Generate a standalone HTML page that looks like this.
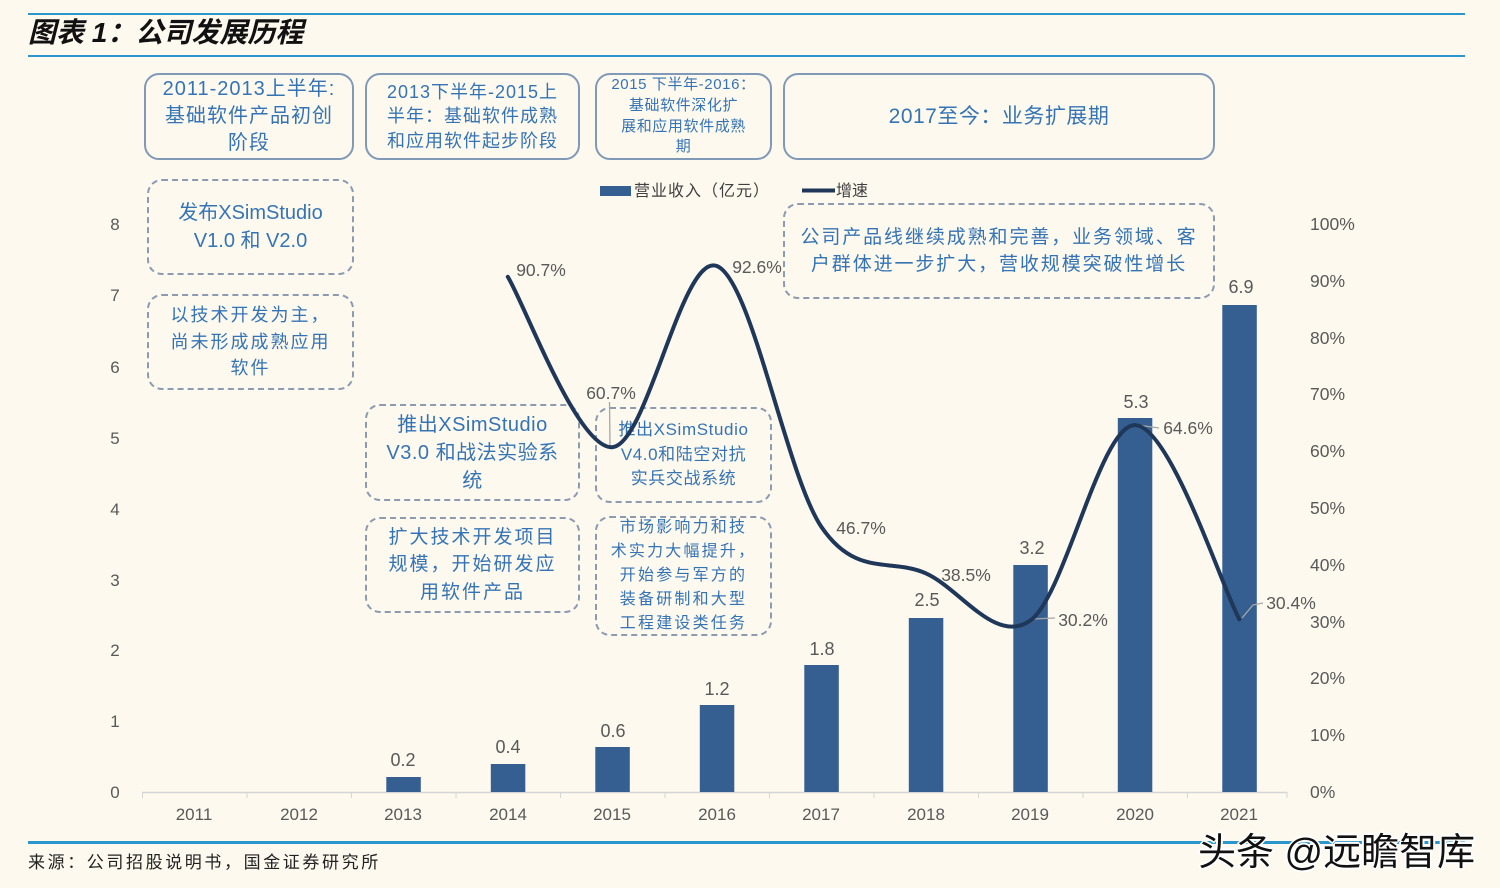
<!DOCTYPE html>
<html>
<head>
<meta charset="utf-8">
<style>
html,body{margin:0;padding:0;}
body{width:1500px;height:888px;background:#fdf9ef;position:relative;overflow:hidden;font-family:"Liberation Sans","Noto Sans CJK SC",sans-serif;}
.hl{position:absolute;left:28px;width:1437px;background:#2a96cc;}
.title{position:absolute;left:28px;top:13px;height:40px;line-height:40px;font-size:28px;font-weight:bold;font-style:italic;color:#111;font-family:"Liberation Sans","Noto Sans CJK SC",sans-serif;}
.box{position:absolute;box-sizing:border-box;border-radius:15px;display:flex;flex-direction:column;align-items:center;justify-content:center;text-align:center;color:#3574b4;font-family:"Liberation Sans","Noto Sans CJK SC",sans-serif;white-space:nowrap;}
.solid{border:2px solid #8099b6;}
.dash{border:2px dashed #8c9bb0;}
.src{position:absolute;left:28px;top:848px;font-size:17px;letter-spacing:2.6px;color:#222;font-family:"Liberation Sans","Noto Sans CJK SC",sans-serif;}
.wm{position:absolute;left:1198px;top:821px;font-size:38px;color:#111;letter-spacing:0px;font-family:"Liberation Sans","Noto Sans CJK SC",sans-serif;
text-shadow:-2px 0 #fff,2px 0 #fff,0 -2px #fff,0 2px #fff,-1px -1px #fff,1px 1px #fff,-1px 1px #fff,1px -1px #fff;}
svg{position:absolute;left:0;top:0;}
</style>
</head>
<body>
<div class="hl" style="top:13px;height:2px;"></div>
<div class="title">图表 1：公司发展历程</div>
<div class="hl" style="top:55px;height:2px;"></div>

<div class="box solid" style="left:144px;top:73px;width:210px;height:87px;font-size:20px;line-height:27px;letter-spacing:1px;">
<div>2011-2013上半年:</div><div>基础软件产品初创</div><div>阶段</div></div>
<div class="box solid" style="left:365px;top:73px;width:215px;height:87px;font-size:18px;line-height:24.5px;letter-spacing:1px;">
<div>2013下半年-2015上</div><div>半年：基础软件成熟</div><div>和应用软件起步阶段</div></div>
<div class="box solid" style="left:595px;top:73px;width:177px;height:87px;font-size:15px;line-height:20.7px;letter-spacing:0.6px;">
<div>2015 下半年-2016：</div><div>基础软件深化扩</div><div>展和应用软件成熟</div><div>期</div></div>
<div class="box solid" style="left:783px;top:73px;width:432px;height:87px;font-size:21px;line-height:28px;letter-spacing:0.5px;">
<div>2017至今：业务扩展期</div></div>

<div class="box dash" style="left:147px;top:179px;width:207px;height:96px;font-size:20px;line-height:28px;">
<div>发布XSimStudio</div><div>V1.0 和 V2.0</div></div>
<div class="box dash" style="left:147px;top:294px;width:207px;height:96px;font-size:18px;line-height:26.5px;letter-spacing:2px;">
<div>以技术开发为主，</div><div>尚未形成成熟应用</div><div>软件</div></div>
<div class="box dash" style="left:365px;top:404px;width:215px;height:97px;font-size:20px;line-height:28px;letter-spacing:0.5px;">
<div>推出XSimStudio</div><div>V3.0 和战法实验系</div><div>统</div></div>
<div class="box dash" style="left:365px;top:517px;width:215px;height:96px;font-size:19px;line-height:27.5px;letter-spacing:2px;">
<div>扩大技术开发项目</div><div>规模，开始研发应</div><div>用软件产品</div></div>
<div class="box dash" style="left:595px;top:407px;width:177px;height:96px;font-size:17px;line-height:24.5px;letter-spacing:0.6px;">
<div>推出XSimStudio</div><div>V4.0和陆空对抗</div><div>实兵交战系统</div></div>
<div class="box dash" style="left:595px;top:516px;width:177px;height:120px;font-size:16px;line-height:24.2px;letter-spacing:2.2px;">
<div>市场影响力和技</div><div>术实力大幅提升，</div><div>开始参与军方的</div><div>装备研制和大型</div><div>工程建设类任务</div></div>
<div class="box dash" style="left:783px;top:203px;width:432px;height:96px;font-size:19px;line-height:27px;letter-spacing:1.9px;">
<div>公司产品线继续成熟和完善，业务领域、客</div><div>户群体进一步扩大，营收规模突破性增长</div></div>

<svg width="1500" height="888" viewBox="0 0 1500 888" xmlns="http://www.w3.org/2000/svg">
  <rect x="600" y="186" width="31" height="10" fill="#355f91"/>
  <text x="634" y="196" font-size="16" fill="#404040" letter-spacing="1" font-family="Liberation Sans, Noto Sans CJK SC, sans-serif">营业收入（亿元）</text>
  <line x1="802" y1="190.5" x2="835" y2="190.5" stroke="#1f3759" stroke-width="4"/>
  <text x="836" y="196" font-size="16" fill="#404040" font-family="Liberation Sans, Noto Sans CJK SC, sans-serif">增速</text>

  <line x1="142" y1="792.5" x2="1287" y2="792.5" stroke="#d5d5d5" stroke-width="1.5"/>
  <g stroke="#d5d5d5" stroke-width="1">
    <line x1="142.5" y1="792" x2="142.5" y2="798"/>
    <line x1="247" y1="792" x2="247" y2="798"/>
    <line x1="351.5" y1="792" x2="351.5" y2="798"/>
    <line x1="456" y1="792" x2="456" y2="798"/>
    <line x1="560.5" y1="792" x2="560.5" y2="798"/>
    <line x1="665" y1="792" x2="665" y2="798"/>
    <line x1="769.5" y1="792" x2="769.5" y2="798"/>
    <line x1="874" y1="792" x2="874" y2="798"/>
    <line x1="978.5" y1="792" x2="978.5" y2="798"/>
    <line x1="1083" y1="792" x2="1083" y2="798"/>
    <line x1="1187.5" y1="792" x2="1187.5" y2="798"/>
    <line x1="1287" y1="792" x2="1287" y2="798"/>
  </g>

  <g fill="#355f91">
    <rect x="386.3" y="777" width="34.5" height="15"/>
    <rect x="490.8" y="764" width="34.5" height="28"/>
    <rect x="595.3" y="747" width="34.5" height="45"/>
    <rect x="699.8" y="705" width="34.5" height="87"/>
    <rect x="804.3" y="665" width="34.5" height="127"/>
    <rect x="908.8" y="618" width="34.5" height="174"/>
    <rect x="1013.3" y="565" width="34.5" height="227"/>
    <rect x="1117.8" y="418" width="34.5" height="374"/>
    <rect x="1222.3" y="305" width="34.5" height="487"/>
  </g>

  <g stroke="#a6a6a6" stroke-width="1.3" fill="none">
    <line x1="609.5" y1="402" x2="610" y2="446"/>
    <line x1="1033" y1="619" x2="1055" y2="618"/>
    <line x1="1137" y1="425" x2="1159" y2="428"/>
    <polyline points="1242,618 1253,605 1263,603"/>
  </g>

  <path d="M507.8,276.8 C525.2,305.2 577.5,449.0 612.3,447.2 C647.1,445.4 682.0,252.75 716.8,266.0 C751.6,279.25 786.5,475.5 821.3,526.7 C856.1,577.9 891.0,557.7 925.8,573.3 C960.6,588.9 995.5,645.2 1030.3,620.5 C1065.1,595.8 1100.0,425.3 1134.8,425.1 C1169.6,424.9 1221.9,586.9 1239.3,619.3"
   fill="none" stroke="#1f3759" stroke-width="4" stroke-linecap="round" stroke-linejoin="round"/>

  <g font-family="Liberation Sans, sans-serif" fill="#595959">
    <g font-size="17" text-anchor="middle">
      <text x="115" y="230">8</text>
      <text x="115" y="301">7</text>
      <text x="115" y="373">6</text>
      <text x="115" y="444">5</text>
      <text x="115" y="515">4</text>
      <text x="115" y="586">3</text>
      <text x="115" y="656">2</text>
      <text x="115" y="727">1</text>
      <text x="115" y="798">0</text>
    </g>
    <g font-size="17.5">
      <text x="1310" y="230">100%</text>
      <text x="1310" y="287">90%</text>
      <text x="1310" y="344">80%</text>
      <text x="1310" y="400">70%</text>
      <text x="1310" y="457">60%</text>
      <text x="1310" y="514">50%</text>
      <text x="1310" y="571">40%</text>
      <text x="1310" y="628">30%</text>
      <text x="1310" y="684">20%</text>
      <text x="1310" y="741">10%</text>
      <text x="1310" y="798">0%</text>
    </g>
    <g font-size="17" text-anchor="middle">
      <text x="194" y="820">2011</text>
      <text x="299" y="820">2012</text>
      <text x="403" y="820">2013</text>
      <text x="508" y="820">2014</text>
      <text x="612" y="820">2015</text>
      <text x="717" y="820">2016</text>
      <text x="821" y="820">2017</text>
      <text x="926" y="820">2018</text>
      <text x="1030" y="820">2019</text>
      <text x="1135" y="820">2020</text>
      <text x="1239" y="820">2021</text>
    </g>
    <g font-size="18" text-anchor="middle">
      <text x="403" y="766">0.2</text>
      <text x="508" y="753">0.4</text>
      <text x="613" y="737">0.6</text>
      <text x="717" y="695">1.2</text>
      <text x="822" y="655">1.8</text>
      <text x="927" y="606">2.5</text>
      <text x="1032" y="554">3.2</text>
      <text x="1136" y="408">5.3</text>
      <text x="1241" y="293">6.9</text>
    </g>
    <g font-size="17.5" text-anchor="middle">
      <text x="541" y="276">90.7%</text>
      <text x="757" y="273">92.6%</text>
      <text x="611" y="399">60.7%</text>
      <text x="861" y="534">46.7%</text>
      <text x="966" y="581">38.5%</text>
      <text x="1083" y="626">30.2%</text>
      <text x="1188" y="434">64.6%</text>
      <text x="1291" y="609">30.4%</text>
    </g>
  </g>
</svg>

<div class="hl" style="top:841px;height:3px;"></div>
<div class="src">来源：公司招股说明书，国金证券研究所</div>
<div class="wm">头条 @远瞻智库</div>
</body>
</html>
